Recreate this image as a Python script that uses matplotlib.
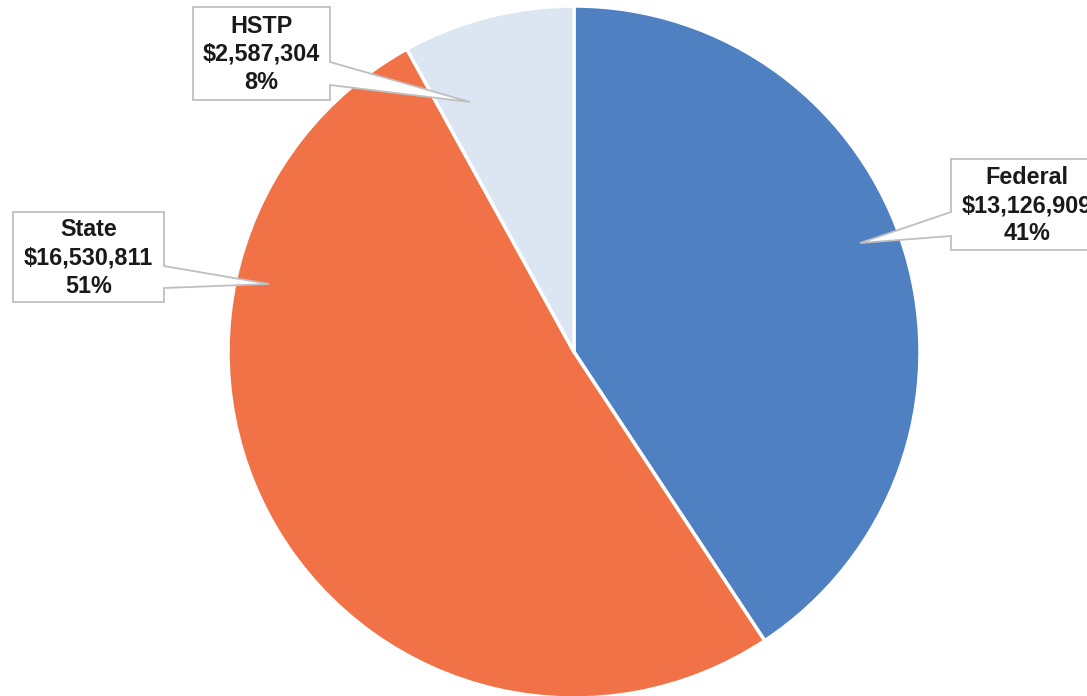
import numpy as np
import matplotlib.pyplot as plt
from matplotlib.patches import Polygon

plt.rcParams['font.family'] = ['Liberation Sans', 'DejaVu Sans']

# data
labels = ['Federal', 'State', 'HSTP']
amounts = [13126909, 16530811, 2587304]
colors = ['#4f80c1', '#f17246', '#dce5f2']

W, H = 1087, 696
CX, CY, R = 574, 352, 346  # pie centre / radius in pixels


def to_data(px, py):
    return (px - CX) / R, (CY - py) / R


fig = plt.figure(figsize=(W / 100, H / 100), dpi=100)
ax = fig.add_axes([0, 0, 1, 1])

ax.pie(amounts, colors=colors, startangle=90, counterclock=False,
       radius=1, wedgeprops=dict(edgecolor='white', linewidth=2.5))
ax.set_xlim(to_data(0, 0)[0], to_data(W, 0)[0])
ax.set_ylim(to_data(0, H)[1], to_data(0, 0)[1])
ax.axis('off')

total = sum(amounts)

# callout boxes: (left, top, right, bottom), pointer side, attach y's, tip
callouts = {
    'Federal': dict(box=(951, 159, 1103, 250), side='left', att=(212, 236), tip=(860, 243)),
    'State': dict(box=(13, 212, 164, 302), side='right', att=(266, 288), tip=(269, 284)),
    'HSTP': dict(box=(193, 7, 330, 100), side='right', att=(62, 85), tip=(470, 102)),
}

for name, amt in zip(labels, amounts):
    c = callouts[name]
    x0, y0, x1, y1 = c['box']
    a0, a1 = c['att']
    if c['side'] == 'left':
        pts = [(x0, y0), (x1, y0), (x1, y1), (x0, y1), (x0, a1), c['tip'], (x0, a0)]
    else:
        pts = [(x0, y0), (x1, y0), (x1, a0), c['tip'], (x1, a1), (x1, y1), (x0, y1)]
    poly = Polygon([to_data(*p) for p in pts], closed=True, facecolor='white',
                   edgecolor='#bfbfbf', linewidth=1.3, zorder=5, clip_on=False)
    ax.add_patch(poly)
    tx, ty = to_data((x0 + x1) / 2, (y0 + y1) / 2 + 1)
    pct = amt / total * 100
    ax.text(tx, ty, f'{name}\n${amt:,}\n{pct:.0f}%', ha='center', va='center',
            fontsize=16.8, fontweight='bold', color='#1a1a1a', linespacing=1.3,
            zorder=6)

fig.savefig('out.png', dpi=100)
